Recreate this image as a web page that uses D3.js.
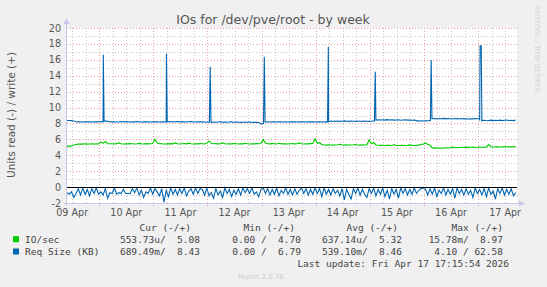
<!DOCTYPE html>
<html><head><meta charset="utf-8">
<script src="https://cdn.jsdelivr.net/npm/d3@7"></script>
<style>
html,body{margin:0;padding:0;background:#f0f0f0;}
svg{display:block;}
text{font-family:"DejaVu Sans",sans-serif;}
.mono{font-family:"DejaVu Sans Mono",monospace;white-space:pre;}
</style></head><body><svg id="c" width="547" height="287"></svg>
<script>
// ---------- data ----------
const title = "IOs for /dev/pve/root - by week";
const yLabel = "Units read (-) / write (+)";
const startTime = Date.UTC(2026, 3, 9, 9, 42);
const endTime = Date.UTC(2026, 3, 17, 17, 16);
const stepHours = 1;
const yTicks = [-2, 0, 2, 4, 6, 8, 10, 12, 14, 16, 18, 20];

// IO/sec (write, +)
const ioWrite = [
5.15,5.12,5.18,5.30,5.36,5.40,5.42,5.40,5.44,5.40,
5.42,5.45,5.40,5.44,5.42,5.68,5.50,5.72,5.46,5.44,
5.45,5.42,5.46,5.55,5.44,5.42,5.45,5.43,5.46,5.44,
5.42,5.45,5.50,5.44,5.42,5.46,5.43,5.45,5.48,6.00,
5.55,5.46,5.44,5.42,5.45,5.43,5.46,5.44,5.55,5.45,
5.42,5.44,5.46,5.43,5.52,5.44,5.42,5.45,5.43,5.46,
5.44,5.42,5.50,5.80,5.50,5.44,5.46,5.43,5.45,5.55,
5.44,5.42,5.45,5.43,5.46,5.44,5.42,5.45,5.43,5.50,
5.44,5.42,5.45,5.43,5.46,5.44,5.48,6.00,5.55,5.45,
5.43,5.46,5.44,5.42,5.50,5.44,5.43,5.45,5.42,5.44,
5.46,5.43,5.45,5.55,5.44,5.42,5.45,5.43,5.46,5.48,
6.05,5.50,5.58,5.35,5.30,5.28,5.32,5.30,5.28,5.30,
5.32,5.38,5.30,5.28,5.31,5.29,5.30,5.32,5.35,5.30,
5.28,5.31,5.30,5.29,5.95,5.45,5.60,5.30,5.26,5.24,
5.25,5.23,5.26,5.24,5.22,5.32,5.25,5.23,5.24,5.26,
5.22,5.25,5.30,5.24,5.22,5.25,5.28,5.35,5.40,5.55,
5.35,5.28,4.92,4.90,4.92,4.88,4.90,4.92,4.95,4.92,
4.95,5.02,4.98,4.96,4.98,5.00,4.98,5.02,4.99,5.00,
5.02,4.98,5.00,5.04,5.00,5.02,5.05,5.35,5.08,5.04,
5.05,5.08,5.04,5.06,5.10,5.05,5.08,5.06,5.10,5.08];

// Req Size (KB) write (+), hourly
const reqWrite = [
8.38,8.38,8.36,8.30,8.22,8.20,8.22,8.18,8.20,8.22,
8.20,8.18,8.22,8.20,8.20,8.24,8.22,8.30,8.26,8.22,
8.20,8.22,8.18,8.20,8.24,8.22,8.20,8.20,8.18,8.22,
8.20,8.24,8.20,8.18,8.22,8.20,8.22,8.18,8.20,8.22,
8.20,8.18,8.22,8.20,8.16,8.24,8.22,8.20,8.22,8.24,
8.20,8.22,8.20,8.18,8.22,8.24,8.20,8.18,8.20,8.22,
8.20,8.18,8.16,8.20,8.14,8.18,8.16,8.18,8.20,8.16,
8.18,8.16,8.18,8.20,8.16,8.18,8.16,8.14,8.16,8.18,
8.16,8.18,8.16,8.14,8.16,8.12,7.95,8.00,8.18,8.20,
8.18,8.20,8.22,8.18,8.20,8.22,8.18,8.20,8.18,8.20,
8.22,8.20,8.18,8.20,8.22,8.20,8.18,8.20,8.22,8.20,
8.18,8.22,8.20,8.18,8.20,8.20,8.22,8.30,8.28,8.26,
8.30,8.26,8.28,8.32,8.28,8.26,8.30,8.28,8.26,8.30,
8.28,8.26,8.30,8.28,8.26,8.28,8.30,8.40,8.46,8.44,
8.46,8.42,8.48,8.44,8.46,8.42,8.44,8.46,8.40,8.44,
8.46,8.42,8.44,8.40,8.42,8.36,8.30,8.34,8.30,8.32,
8.34,8.34,8.60,8.62,8.58,8.62,8.60,8.64,8.58,8.62,
8.60,8.56,8.62,8.58,8.60,8.62,8.58,8.60,8.56,8.60,
8.58,8.62,8.60,8.40,8.36,8.40,8.34,8.38,8.42,8.36,
8.40,8.38,8.42,8.36,8.40,8.44,8.38,8.40,8.36,8.43];

// short daily write spikes (hours after start, value)
const spikeHours = [15.75,16.1,16.45, 43.75,44.1,44.45, 63.15,63.5,63.85, 87.15,87.5,87.85,
  115.55,115.9,116.25, 136.35,136.7,137.05, 161.15,161.5,161.85, 182.85,183.2,183.7,184.05];
const spikeValues = [8.22,16.64,8.26, 8.18,16.77,8.22, 8.18,15.13,8.16, 8.00,16.40,8.18,
  8.20,17.65,8.24, 8.30,14.50,8.40, 8.34,15.97,8.60, 8.60,17.77,17.77,8.38];

// Req Size (KB) read (-), hourly, plotted below zero
const reqRead = [
0.7,0.9,0.6,1.3,0.8,0.2,1.0,0.1,0.9,0.3,1.1,0.2,0.8,0.1,0.9,0.6,1.0,0.2,1.4,0.7,
0.8,0.1,0.9,0.7,0.8,0.3,0.8,0.8,0.8,0.2,0.7,0.1,1.0,0.4,1.3,0.6,0.8,0.1,0.9,0.2,
0.6,1.1,0.2,1.9,0.4,1.2,0.1,0.9,0.3,1.0,0.2,0.8,0.1,1.1,0.5,0.2,0.9,0.1,0.8,0.2,
0.3,1.0,0.1,1.1,0.7,1.4,0.2,1.0,0.5,1.3,0.1,0.8,0.3,1.2,0.4,0.9,0.2,1.0,0.1,0.7,
0.2,0.8,0.1,0.9,0.6,1.2,0.3,0.1,0.8,0.2,1.0,0.3,0.9,0.1,1.1,0.4,0.8,0.1,0.9,0.3,
1.0,0.2,0.9,0.4,0.1,0.8,0.2,1.0,0.3,0.9,0.1,0.8,0.2,1.2,0.1,0.9,0.3,1.0,0.2,0.8,
0.4,1.1,0.2,1.6,0.3,0.9,1.5,0.2,0.8,0.1,1.0,0.3,0.9,1.3,0.2,0.8,0.1,1.1,0.3,0.9,
0.1,1.2,0.4,1.5,0.2,0.9,0.3,1.4,0.1,0.8,0.2,1.0,0.3,0.9,0.1,0.8,0.4,0.2,0.1,0.3,
1.0,0.2,0.9,0.1,1.2,0.4,0.8,0.1,1.0,0.3,0.9,0.2,1.4,0.1,0.8,0.3,1.0,0.2,0.9,0.4,
1.3,0.1,0.8,0.3,1.0,0.2,1.2,0.1,0.9,0.5,1.5,0.2,0.8,0.1,1.0,0.3,0.9,0.2,1.1,0.7];

// legend
const seriesNames = ["IO/sec", "Req Size (KB)"];
const seriesColors = ["#00cc00", "#0066b3"];
const curVals = ["553.73u/  5.08", "689.49m/  8.43"];
const minVals = ["0.00 /  4.70", "0.00 /  6.79"];
const avgVals = ["637.14u/  5.32", "539.10m/  8.46"];
const maxVals = ["15.78m/  8.97", "4.10 / 62.58"];
const colHeaders = ["Cur (-/+)", "Min (-/+)", "Avg (-/+)", "Max (-/+)"];
const lastUpdate = "Last update: Fri Apr 17 17:15:54 2026";

// ---------- chart ----------
const svg = d3.select("#c");
const L = 67, R = 517, T = 28, B = 203;
const x = d3.scaleUtc().domain([startTime, endTime]).range([L, R]);
const y = d3.scaleLinear().domain([-2, 20]).range([B, T]);
const H = 3600 * 1000;

svg.append("rect").attr("width", 547).attr("height", 287).attr("fill", "#f0f0f0");
svg.append("rect").attr("x", L).attr("y", T).attr("width", R - L).attr("height", B - T).attr("fill", "#fff");

const grid = svg.append("g");
// minor horizontal
d3.range(-1, 20, 2).forEach(v => {
  grid.append("line").attr("x1", L).attr("x2", R + 1).attr("y1", Math.round(y(v)) + 0.5).attr("y2", Math.round(y(v)) + 0.5)
    .attr("stroke", "#c8c8c8").attr("stroke-dasharray", "1,2");
});
// minor vertical (6h)
d3.utcHour.every(6).range(startTime, endTime).forEach(t => {
  if (t.getUTCHours() === 0) return;
  const px = Math.round(x(t)) + 0.5;
  grid.append("line").attr("x1", px).attr("x2", px).attr("y1", T).attr("y2", B)
    .attr("stroke", "#c8c8c8").attr("stroke-dasharray", "1,2");
});
// major horizontal
yTicks.forEach(v => {
  if (v === 0 || v === -2) return;
  grid.append("line").attr("x1", L).attr("x2", R + 1).attr("y1", Math.round(y(v)) + 0.5).attr("y2", Math.round(y(v)) + 0.5)
    .attr("stroke", "#eba0a0").attr("stroke-dasharray", "1,2");
});
// major vertical (midnight)
d3.utcDay.range(startTime, endTime).forEach(t => {
  const px = Math.round(x(t)) + 0.5;
  grid.append("line").attr("x1", px).attr("x2", px).attr("y1", T).attr("y2", B + 3)
    .attr("stroke", "#eba0a0").attr("stroke-dasharray", "1,2");
});

// tick labels
yTicks.forEach(v => {
  svg.append("text").attr("x", 61).attr("y", y(v) + 3.5).attr("text-anchor", "end")
    .attr("font-size", "9.6px").attr("fill", "#555").text(v);
});
d3.utcDay.range(Date.UTC(2026, 3, 9), endTime).forEach(d => {
  const t = +d + 12 * H;
  svg.append("text").attr("x", x(t)).attr("y", 215.5).attr("text-anchor", "middle")
    .attr("font-size", "9.6px").attr("fill", "#555").text(d3.utcFormat("%d %b")(d));
});

// data lines
svg.append("clipPath").attr("id", "pc").append("rect")
  .attr("x", L).attr("y", T - 2).attr("width", R - L).attr("height", B - T + 2);
const plot = svg.append("g").attr("clip-path", "url(#pc)");
const line = d3.line().x(d => x(d.t)).y(d => y(d.v));

const readPts = reqRead.map((v, i) => ({ t: startTime + i * stepHours * H, v: -v }));
const ioPts = ioWrite.map((v, i) => ({ t: startTime + i * stepHours * H, v }));
const wPts = reqWrite.map((v, i) => ({ t: startTime + i * stepHours * H, v }))
  .concat(spikeHours.map((h, i) => ({ t: startTime + h * H, v: spikeValues[i] })))
  .sort((a, b) => a.t - b.t);

plot.append("path").attr("d", line(readPts)).attr("fill", "none").attr("stroke", seriesColors[1]).attr("stroke-width", 1.1);
plot.append("path").attr("d", line(ioPts)).attr("fill", "none").attr("stroke", seriesColors[0]).attr("stroke-width", 1.1);
plot.append("path").attr("d", line(wPts)).attr("fill", "none").attr("stroke", seriesColors[1]).attr("stroke-width", 1.1);

// zero line
svg.append("line").attr("x1", L).attr("x2", R).attr("y1", Math.round(y(0)) + 0.5).attr("y2", Math.round(y(0)) + 0.5)
  .attr("stroke", "#000").attr("stroke-width", 1);

// axes with arrows
const axc = "#c8c8ee";
svg.append("line").attr("x1", L - 0.5).attr("x2", L - 0.5).attr("y1", B + 3).attr("y2", T - 5).attr("stroke", axc);
svg.append("line").attr("x1", L - 3).attr("x2", R + 2).attr("y1", B + 0.5).attr("y2", B + 0.5).attr("stroke", axc);
svg.append("path").attr("d", `M${L - 3.5},${T - 4} L${L - 0.5},${T - 10} L${L + 2.5},${T - 4} Z`).attr("fill", axc);
svg.append("path").attr("d", `M${R + 2},${B - 2.5} L${R + 8},${B + 0.5} L${R + 2},${B + 3.5} Z`).attr("fill", axc);

// titles
svg.append("text").attr("x", 273).attr("y", 24).attr("text-anchor", "middle")
  .attr("font-size", "12.5px").attr("fill", "#555").text(title);
svg.append("text").attr("transform", "translate(15,115) rotate(-90)").attr("text-anchor", "middle")
  .attr("font-size", "10.5px").attr("fill", "#555").text(yLabel);
svg.append("text").attr("transform", "translate(535,5) rotate(90)").attr("text-anchor", "start")
  .attr("font-size", "6.8px").attr("fill", "#d0d0d0").text("RRDTOOL / TOBI OETIKER");

// legend
const lf = "9.5px";
const colEnds = [200, 301, 402, 503];
const headEnds = [191, 295, 398, 503];
colHeaders.forEach((h, i) => {
  svg.append("text").attr("class", "mono").attr("x", headEnds[i]).attr("y", 231).attr("text-anchor", "end")
    .attr("font-size", lf).attr("fill", "#444").text(h);
});
const rowsY = [242.7, 255];
seriesNames.forEach((n, r) => {
  svg.append("rect").attr("x", 13).attr("y", rowsY[r] - 6.5).attr("width", 6).attr("height", 6).attr("fill", seriesColors[r]);
  svg.append("text").attr("class", "mono").attr("x", 25).attr("y", rowsY[r]).attr("font-size", lf).attr("fill", "#444").text(n);
  [curVals, minVals, avgVals, maxVals].forEach((arr, c) => {
    svg.append("text").attr("class", "mono").attr("x", colEnds[c]).attr("y", rowsY[r]).attr("text-anchor", "end")
      .attr("font-size", lf).attr("fill", "#444").text(arr[r]);
  });
});
svg.append("text").attr("class", "mono").attr("x", 509).attr("y", 267).attr("text-anchor", "end")
  .attr("font-size", lf).attr("fill", "#444").text(lastUpdate);
svg.append("text").attr("x", 261).attr("y", 279).attr("text-anchor", "middle")
  .attr("font-size", "7px").attr("fill", "#cccccc").text("Munin 2.0.76");
</script></body></html>
